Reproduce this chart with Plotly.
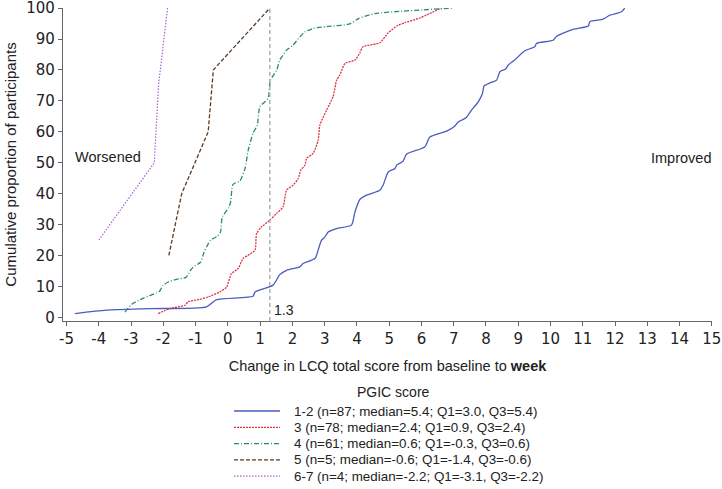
import plotly.graph_objects as go

# ---- data ----
g12_x = [-4.74, -3.76, -2.42, -0.66, -0.35, 0.78, 0.84, 1.40, 1.61, 1.82, 2.23, 2.33, 2.70, 2.75, 2.90,
         3.01, 3.11, 3.37, 3.83, 3.94, 4.09, 4.30, 4.71, 4.81, 4.97, 5.18, 5.23, 5.43, 5.54, 6.10, 6.26,
         6.78, 7.03, 7.14, 7.38, 7.55, 7.76, 7.89, 7.94, 8.12, 8.33, 8.43, 8.61, 8.69, 8.89, 9.20, 9.51,
         9.57, 10.08, 10.19, 10.70, 11.17, 11.22, 11.63, 11.84, 12.20, 12.30]
g12_y = [1.2, 2.3, 2.8, 3.4, 5.7, 6.8, 8.2, 10.4, 13.8, 15.2, 16.3, 17.4, 19.0, 20.1, 24.9,
         26.0, 27.6, 28.7, 29.8, 34.1, 38.1, 39.5, 41.1, 42.7, 47.0, 48.1, 49.2, 50.5, 52.8, 55.1, 58.3,
         60.2, 61.8, 63.2, 64.5, 67.0, 69.7, 72.4, 74.8, 75.8, 76.7, 79.4, 80.3, 81.6, 83.2, 86.2, 87.5,
         88.6, 89.6, 90.9, 93.1, 94.2, 95.6, 96.4, 97.7, 98.8, 100]

g3_x = [-2.16, -1.80, -1.33, -1.23, -0.87, -0.61, -0.25, -0.04, 0.11, 0.32, 0.47, 0.63, 0.84, 0.89,
        1.04, 1.30, 1.51, 1.71, 1.82, 2.02, 2.18, 2.26, 2.39, 2.44, 2.64, 2.80, 2.85, 3.06, 3.26, 3.37,
        3.47, 3.63, 3.94, 4.09, 4.19, 4.71, 4.97, 5.25, 5.49, 5.95, 6.16, 6.62]
g3_y = [1.2, 2.8, 3.9, 5.0, 5.8, 6.6, 8.2, 9.8, 14.1, 15.8, 19.0, 20.1, 21.7, 27.1,
        29.2, 31.4, 33.6, 35.7, 41.1, 42.7, 44.9, 47.6, 49.2, 51.4, 53.0, 57.3, 62.1, 67.0, 71.3, 76.7,
        78.3, 82.1, 83.2, 85.5, 87.5, 88.8, 92.0, 94.3, 95.3, 96.8, 97.8, 100]

g4_x = [-3.19, -2.98, -2.62, -2.21, -2.11, -2.02, -1.85, -1.59, -1.30, -1.15, -1.07, -0.85, -0.74,
        -0.66, -0.53, -0.33, -0.23, -0.17, 0.03, 0.09, 0.16, 0.37, 0.53, 0.63, 0.78, 0.91, 0.99, 1.15,
        1.25, 1.32, 1.51, 1.61, 1.82, 2.02, 2.23, 2.39, 2.64, 3.06, 3.78, 4.06, 4.55, 5.40, 6.00, 6.98]
g4_y = [1.7, 4.2, 6.2, 7.9, 8.5, 10.2, 11.4, 12.3, 12.9, 15.3, 16.3, 17.8, 21.0,
        22.8, 25.0, 26.2, 27.6, 32.5, 35.5, 37.6, 43.0, 44.1, 48.1, 54.0, 59.5, 62.1, 68.1, 69.7,
        70.8, 76.7, 79.9, 83.2, 86.4, 88.0, 90.7, 92.3, 93.4, 94.0, 94.9, 96.7, 98.2, 99.0, 99.4, 100]

g5_x = [-1.83, -1.43, -0.61, -0.45, 1.30]
g5_y = [20, 40, 60, 80, 100]

g67_x = [-4.00, -2.28, -2.15, -1.87]
g67_y = [25, 50, 75, 100]

group_labels = [
    "1-2 (n=87; median=5.4; Q1=3.0, Q3=5.4)",
    "3 (n=78; median=2.4; Q1=0.9, Q3=2.4)",
    "4 (n=61; median=0.6; Q1=-0.3, Q3=0.6)",
    "5 (n=5; median=-0.6; Q1=-1.4, Q3=-0.6)",
    "6-7 (n=4; median=-2.2; Q1=-3.1, Q3=-2.2)",
]
series_x = [g12_x, g3_x, g4_x, g5_x, g67_x]
series_y = [g12_y, g3_y, g4_y, g5_y, g67_y]

threshold = 1.3
x_ticks = list(range(-5, 16))
y_ticks = list(range(0, 101, 10))

# ---- styles ----
colors = ["#4a5cc0", "#e03245", "#2a8a72", "#5b3b20", "#a463d6"]
dashes = ["solid", "2px,1px", "5px,2px,1px,2px", "4px,2px", "1.5px,1.5px"]
shapes_line = ["spline", "spline", "spline", "linear", "linear"]
widths = [1.3, 1.3, 1.3, 1.3, 1.2]

FONT = "Liberation Sans, Arial, sans-serif"
TICKFONT = "DejaVu Sans, Verdana, sans-serif"
TXT = "#222222"

fig = go.Figure()
for xs, ys, c, d, s, w, name in zip(series_x, series_y, colors, dashes, shapes_line, widths, group_labels):
    fig.add_trace(go.Scatter(
        x=xs, y=ys, mode="lines", name=name, showlegend=False,
        line=dict(color=c, dash=d, width=w, shape=s, smoothing=0.6 if s == "spline" else None),
        hoverinfo="skip",
    ))

# threshold line
fig.add_shape(type="line", xref="x", yref="y", x0=threshold, x1=threshold, y0=-1.2, y1=100,
              line=dict(color="#b0b0b0", width=1.5, dash="4px,3px"))
fig.add_annotation(x=threshold, y=2.3, xref="x", yref="y", text=str(threshold), showarrow=False,
                   xanchor="left", xshift=2, font=dict(family=FONT, size=14, color=TXT))
fig.add_annotation(x=-3.7, y=52, xref="x", yref="y", text="Worsened", showarrow=False,
                   font=dict(family=FONT, size=14.5, color=TXT))
fig.add_annotation(x=14.05, y=51.6, xref="x", yref="y", text="Improved", showarrow=False,
                   font=dict(family=FONT, size=14.5, color=TXT))

# ---- manual legend (paper coordinates) ----
L, R, T, B = 63, 712, 8, 321
pw, ph = R - L, B - T
def px2paper(px, py):
    return (px - L) / pw, (B - py) / ph

tx, ty = px2paper(393, 391.5)
fig.add_annotation(x=tx, y=ty, xref="paper", yref="paper", text="PGIC score", showarrow=False,
                   xanchor="center", yanchor="middle", font=dict(family=FONT, size=14, color=TXT))
row_y = [411, 427.3, 443.6, 459.9, 476.2]
for ry, c, d, name in zip(row_y, colors, dashes, group_labels):
    x0, y0 = px2paper(234, ry)
    x1, _ = px2paper(280, ry)
    fig.add_shape(type="line", xref="paper", yref="paper", x0=x0, x1=x1, y0=y0, y1=y0,
                  line=dict(color=c, dash=d, width=1.3))
    lx, ly = px2paper(292, ry)
    fig.add_annotation(x=lx, y=ly, xref="paper", yref="paper", text=name, showarrow=False,
                       xanchor="left", yanchor="middle", font=dict(family=FONT, size=13.4, color=TXT))

axis_common = dict(showgrid=False, zeroline=False, showline=True, linecolor="#666666", linewidth=1.2,
                   ticks="outside", ticklen=4, tickcolor="#666666", tickwidth=1.2,
                   ticklabeloverflow="allow",
                   tickfont=dict(family=TICKFONT, size=15, color=TXT))

fig.update_xaxes(range=[-5.11, 15.005], tickvals=x_ticks, ticktext=[str(v) for v in x_ticks],
                 title=dict(text="Change in LCQ total score from baseline to <b>week</b>",
                            font=dict(family=FONT, size=14.5, color=TXT), standoff=13),
                 **axis_common)
fig.update_yaxes(range=[-1.2, 100.03], tickvals=y_ticks, ticktext=[str(v) for v in y_ticks],
                 title=dict(text="Cumulative proportion of participants",
                            font=dict(family=FONT, size=15, color=TXT), standoff=6),
                 **axis_common)

fig.update_layout(
    width=722, height=489,
    margin=dict(l=L, r=722 - R, t=T, b=489 - B, autoexpand=False),
    paper_bgcolor="white", plot_bgcolor="white",
    showlegend=False,
    font=dict(family=FONT, color=TXT),
)

fig.write_html("out.html", config={"displayModeBar": False},
               post_script="document.body.style.margin='0';document.body.style.padding='0';document.body.style.overflow='hidden';")
